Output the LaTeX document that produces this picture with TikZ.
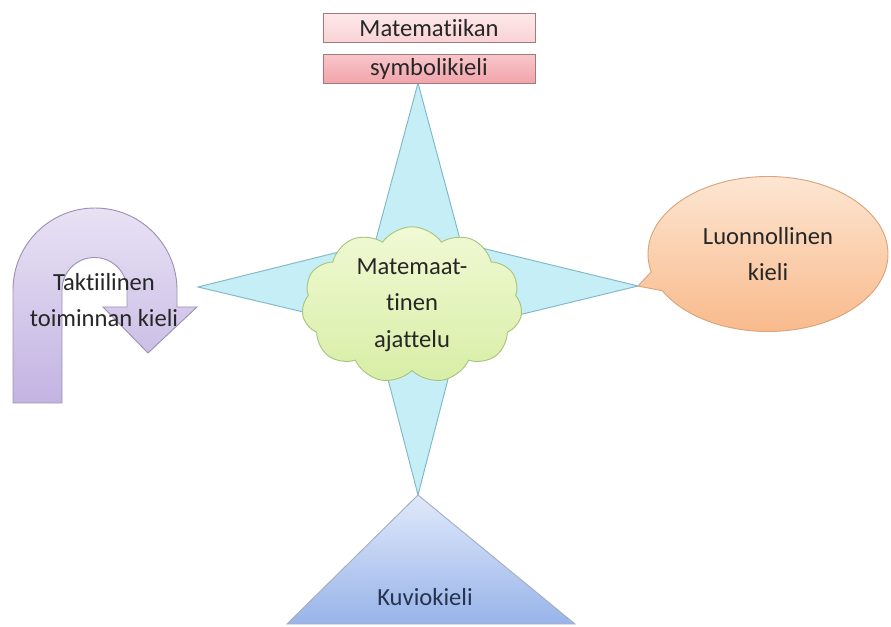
\documentclass[tikz,border=0pt]{standalone}
\usepackage{fontspec}
\setmainfont{Carlito}[Ligatures=NoCommon]
\usetikzlibrary{shapes.symbols,shapes.callouts}
\definecolor{txtgray}{HTML}{262626}
\definecolor{boxline}{HTML}{A07A7C}
\definecolor{boxatop}{HTML}{FDE8E9}
\definecolor{boxabot}{HTML}{F9D2D5}
\definecolor{boxbtop}{HTML}{F8C6CA}
\definecolor{boxbbot}{HTML}{F1A4AA}
\definecolor{starfill}{HTML}{C6EEF6}
\definecolor{starline}{HTML}{7FB8C6}
\definecolor{cloudtop}{HTML}{F0F9D4}
\definecolor{cloudbot}{HTML}{D8EEA6}
\definecolor{cloudline}{HTML}{A9C47F}
\definecolor{bubtop}{HTML}{FDE6D2}
\definecolor{bubbot}{HTML}{F8B787}
\definecolor{bubbleline}{HTML}{D9A57A}
\definecolor{tritop}{HTML}{E0E9FB}
\definecolor{tribot}{HTML}{98B4E9}
\definecolor{triline}{HTML}{A5AEC2}
\definecolor{kuviotxt}{HTML}{26334D}
\definecolor{utop}{HTML}{E8E2F4}
\definecolor{ubot}{HTML}{C3B3E2}
\definecolor{uline}{HTML}{9E92B4}

\begin{document}
\begin{tikzpicture}[x=0.03cm,y=-0.03cm,
	txt/.style={text=txtgray,font=\fontsize{21}{31}\selectfont,align=center},
	symbox/.style={txt,draw=boxline,line width=0.8pt,inner sep=0pt,
		minimum width=6.36cm,minimum height=0.87cm}]
	\useasboundingbox (0,0) rectangle (891,627);
	
	% Matemaattinen ajattelu: nelisakarainen tähti
	\coordinate (st) at (418,83);
	\coordinate (sr) at (638,286);
	\coordinate (sb) at (418,495);
	\coordinate (sl) at (198,287);
	\draw[starline,fill=starfill,line width=0.8pt] (st) -- (461,243) -- (sr) -- (461,329)
		-- (sb) -- (375,329) -- (sl) -- (375,243) -- cycle;
	
	% symbolikieli
	\node[symbox,top color=boxatop,bottom color=boxabot] (sym1) at (429,28) {Matematiikan};
	\node[symbox,top color=boxbtop,bottom color=boxbbot] (sym2) at (429,69) {symbolikieli};
	
	% pilvi
	\node[cloud,cloud puffs=11,cloud puff arc=110,aspect=1.6,draw=cloudline,line width=0.8pt,
		top color=cloudtop,bottom color=cloudbot,
		minimum width=6.2cm,minimum height=3.9cm,inner sep=0pt,txt] (ajat) at (412,305)
		{Matemaat-\\tinen\\ajattelu};
	
	% puhekupla
	\node[ellipse callout,callout absolute pointer={(sr)},draw=bubbleline,line width=0.8pt,
		top color=bubtop,bottom color=bubbot,
		minimum width=7.2cm,minimum height=4.65cm,txt] (luon) at (768,254)
		{Luonnollinen\\kieli};
	
	% kolmio
	\draw[triline,line width=0.8pt,top color=tritop,bottom color=tribot]
		(sb) -- (575,624) -- (287,624) -- cycle;
	\node[txt,text=kuviotxt] (kuvio) at (425,597) {Kuviokieli};
	
	% U-nuoli
	\draw[uline,line width=0.8pt,top color=utop,bottom color=ubot]
		(13,403) -- (13,290) arc[start angle=180,end angle=360,radius=82]
		-- (177,307) -- (197,307) -- (148,353) -- (103,307) -- (127,307) -- (127,290)
		arc[start angle=360,end angle=180,radius=32.5] -- (62,403) -- cycle;
	\node[txt] (takt) at (104,300) {Taktiilinen\\toiminnan kieli};
\end{tikzpicture}
\end{document}
